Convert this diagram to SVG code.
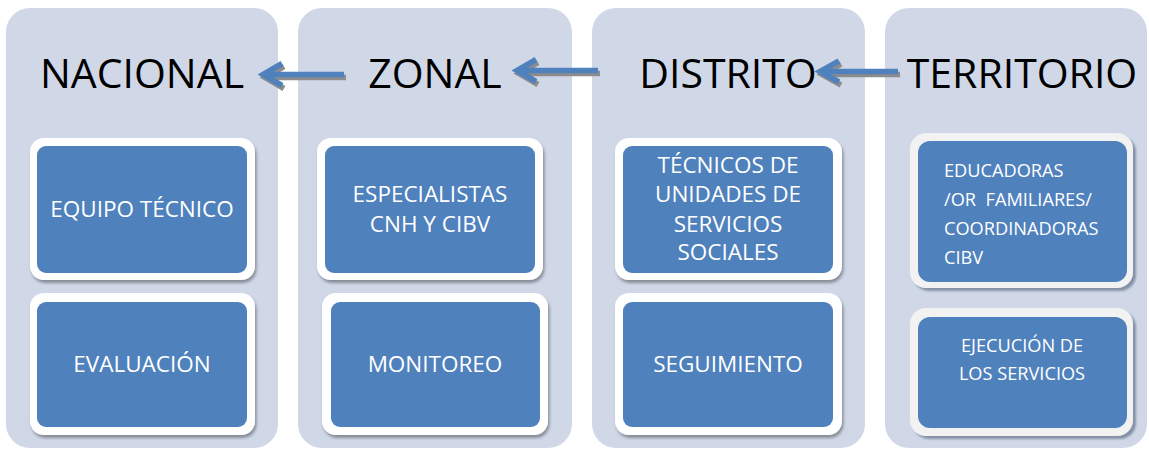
<svg xmlns="http://www.w3.org/2000/svg" width="1149" height="450" viewBox="0 0 1149 450">
<defs>
<style>
.panel{fill:#d0d8e8}
.hdr{font-family:"Open Sans","Liberation Sans",sans-serif;font-size:41px;fill:#000;text-anchor:middle}
.bt{font-family:"Open Sans","Liberation Sans",sans-serif;font-size:22.5px;fill:#fff;text-anchor:middle}
.bt4{font-family:"Open Sans","Liberation Sans",sans-serif;font-size:18.2px;fill:#fff}
.outer{fill:#fff}
.outer4{fill:#f2f2f2}
.inner{fill:#4f81bd}
.arr{fill:none;stroke:#4f81bd;stroke-width:5.5;stroke-linejoin:miter;stroke-miterlimit:10}
.arrs{fill:none;stroke:#8c8c8c;stroke-width:5.5;stroke-linejoin:miter;stroke-miterlimit:10}
</style>
<filter id="sh" x="-10%" y="-10%" width="130%" height="130%">
<feDropShadow dx="1.5" dy="3" stdDeviation="1.8" flood-color="#000" flood-opacity="0.35"/>
</filter>
<filter id="sh4" x="-10%" y="-10%" width="130%" height="130%">
<feDropShadow dx="3" dy="3" stdDeviation="0.8" flood-color="#4a5670" flood-opacity="0.55"/>
</filter>
<filter id="bl" x="-10%" y="-50%" width="120%" height="200%">
<feGaussianBlur stdDeviation="0.7"/>
</filter>
</defs>

<g id="panel-nacional">
<rect class="panel" x="6" y="8" width="272" height="440" rx="24"/>
<text class="hdr" x="142" y="88">NACIONAL</text>
</g>
<g id="panel-zonal">
<rect class="panel" x="298" y="8" width="274" height="440" rx="24"/>
<text class="hdr" x="435" y="88">ZONAL</text>
</g>
<g id="panel-distrito">
<rect class="panel" x="592" y="8" width="273" height="440" rx="24"/>
<text class="hdr" x="728" y="88">DISTRITO</text>
</g>
<g id="panel-territorio">
<rect class="panel" x="885" y="8" width="262" height="440" rx="24"/>
<text class="hdr" x="1022" y="88">TERRITORIO</text>
</g>

<g id="connectors">
<g filter="url(#bl)" transform="translate(2,3)">
<path class="arrs" d="M344,74.5 H265 M282,63.5 L263,74.5 L282,85.5"/>
<path class="arrs" d="M598,70.5 H519 M536,59.5 L517,70.5 L536,81.5"/>
<path class="arrs" d="M898,71.5 H822 M839,61 L820,71.5 L839,82"/>
</g>
<path class="arr" d="M344,74.5 H265 M282,63.5 L263,74.5 L282,85.5"/>
<path class="arr" d="M598,70.5 H519 M536,59.5 L517,70.5 L536,81.5"/>
<path class="arr" d="M898,71.5 H822 M839,61 L820,71.5 L839,82"/>
</g>

<g id="node-equipo-tecnico">
<rect class="outer" filter="url(#sh)" x="30" y="138" width="225" height="142" rx="14"/>
<rect class="inner" x="37" y="146" width="210" height="127" rx="9"/>
<text class="bt" x="142" y="217">EQUIPO TÉCNICO</text>
</g>
<g id="node-evaluacion">
<rect class="outer" filter="url(#sh)" x="30" y="293" width="225" height="142" rx="14"/>
<rect class="inner" x="37" y="302" width="210" height="125" rx="9"/>
<text class="bt" x="142" y="372">EVALUACIÓN</text>
</g>

<g id="node-especialistas">
<rect class="outer" filter="url(#sh)" x="317" y="138" width="226" height="142" rx="14"/>
<rect class="inner" x="325" y="146" width="210" height="127" rx="9"/>
<text class="bt" x="430" y="202">ESPECIALISTAS</text>
<text class="bt" x="430" y="232">CNH Y CIBV</text>
</g>
<g id="node-monitoreo">
<rect class="outer" filter="url(#sh)" x="322" y="293" width="226" height="142" rx="14"/>
<rect class="inner" x="331" y="302" width="209" height="125" rx="9"/>
<text class="bt" x="435" y="372">MONITOREO</text>
</g>

<g id="node-tecnicos">
<rect class="outer" filter="url(#sh)" x="615" y="138" width="227" height="142" rx="14"/>
<rect class="inner" x="623" y="146" width="210" height="127" rx="9"/>
<text class="bt" x="728" y="173">TÉCNICOS DE</text>
<text class="bt" x="728" y="202">UNIDADES DE</text>
<text class="bt" x="728" y="232">SERVICIOS</text>
<text class="bt" x="728" y="260">SOCIALES</text>
</g>
<g id="node-seguimiento">
<rect class="outer" filter="url(#sh)" x="615" y="293" width="227" height="142" rx="14"/>
<rect class="inner" x="623" y="302" width="210" height="125" rx="9"/>
<text class="bt" x="728" y="372">SEGUIMIENTO</text>
</g>

<g id="node-educadoras">
<rect class="outer4" filter="url(#sh4)" x="910" y="133" width="223" height="155" rx="16"/>
<rect class="inner" x="918" y="141" width="209" height="141" rx="12"/>
<text class="bt4" x="944" y="177">EDUCADORAS</text>
<text class="bt4" x="944" y="206" xml:space="preserve">/OR  FAMILIARES/</text>
<text class="bt4" x="944" y="235">COORDINADORAS</text>
<text class="bt4" x="944" y="264">CIBV</text>
</g>
<g id="node-ejecucion">
<rect class="outer4" filter="url(#sh4)" x="910" y="308" width="223" height="128" rx="16"/>
<rect class="inner" x="918" y="317" width="209" height="111" rx="12"/>
<text class="bt4" x="1022" y="352" text-anchor="middle">EJECUCIÓN DE</text>
<text class="bt4" x="1022" y="380" text-anchor="middle">LOS SERVICIOS</text>
</g>
</svg>
